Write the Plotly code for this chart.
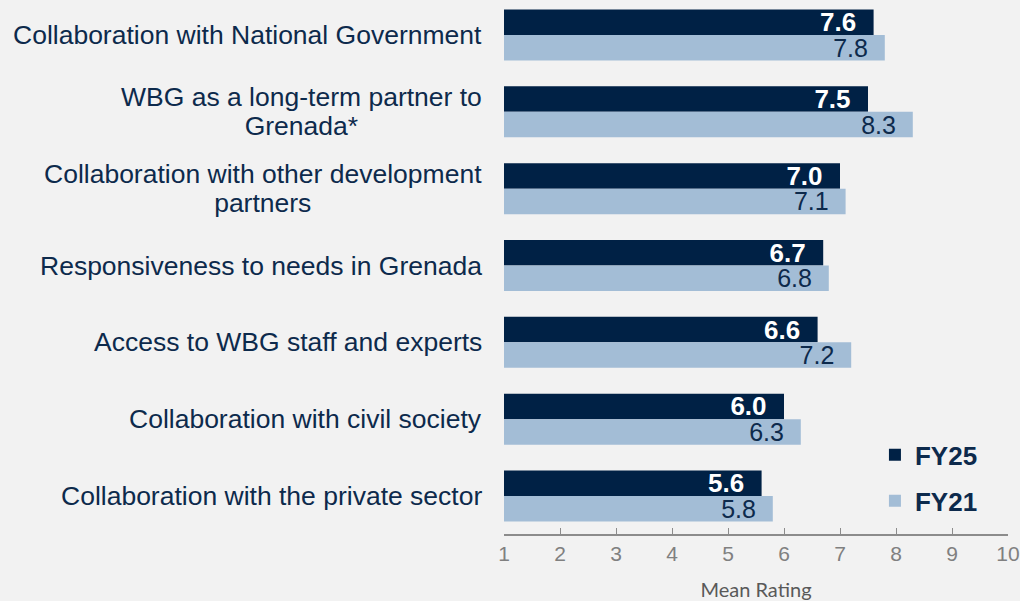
import plotly.graph_objects as go

categories = [
    "Collaboration with National Government",
    "WBG as a long-term partner to<br>Grenada*",
    "Collaboration with other development<br>partners",
    "Responsiveness to needs in Grenada",
    "Access to WBG staff and experts",
    "Collaboration with civil society",
    "Collaboration with the private sector",
]
fy25 = [7.6, 7.5, 7.0, 6.7, 6.6, 6.0, 5.6]
fy21 = [7.8, 8.3, 7.1, 6.8, 7.2, 6.3, 5.8]
x_ticks = [1, 2, 3, 4, 5, 6, 7, 8, 9, 10]

NAVY = "#002145"
LIGHT = "#a3bdd6"
BG = "#f2f2f2"
TXT = "#0d2a4c"
PAD = "\u00a0\u00a0"

fig = go.Figure()
fig.add_trace(go.Bar(
    y=categories, x=fy25, name="FY25", orientation="h",
    marker=dict(color=NAVY, line=dict(width=0)),
    text=[f"{v:.1f}{PAD}" for v in fy25], textposition="inside",
    insidetextanchor="end", constraintext="none",
    textfont=dict(family="Liberation Sans, Arial", size=26, color="white", weight="bold"),
    legendgroup="a",
))
fig.add_trace(go.Bar(
    y=categories, x=fy21, name="FY21", orientation="h",
    marker=dict(color=LIGHT, line=dict(width=0)),
    text=[f"{v:.1f}{PAD}" for v in fy21], textposition="inside",
    insidetextanchor="end", constraintext="none",
    textfont=dict(family="Liberation Sans, Arial", size=25, color=TXT),
    legendgroup="b",
))

# category labels, centre aligned; small base font keeps line spacing tight
for c in categories:
    txt = "<br>".join(f"<span style='font-size:26.5px'>{ln}</span>" for ln in c.split("<br>"))
    fig.add_annotation(
        x=-0.0397, xref="paper", y=c, yref="y", text=txt,
        xanchor="right", yanchor="middle", align="center", showarrow=False,
        font=dict(family="Liberation Sans, Arial", size=22.3, color=TXT),
    )

fig.update_layout(
    width=1020, height=601,
    margin=dict(l=504, r=12, t=0, b=67),
    paper_bgcolor=BG, plot_bgcolor=BG,
    barmode="group", bargap=0.336, bargroupgap=0,
    showlegend=True,
    legend=dict(
        x=0.736, y=0.192, xanchor="left", yanchor="top",
        bgcolor="rgba(0,0,0,0)", tracegroupgap=9, traceorder="grouped",
        font=dict(family="Liberation Sans, Arial", size=26, color=TXT, weight="bold"),
    ),
    xaxis=dict(
        range=[1, 10], tickvals=x_ticks, ticks="inside", ticklen=6,
        tickcolor="#8c8c8c", showline=True, linecolor="#8c8c8c", linewidth=1.5,
        showgrid=False, zeroline=False,
        tickfont=dict(family="Liberation Sans, Arial", size=21, color="#808080"),
        title=dict(text="Mean Rating", standoff=22,
                   font=dict(family="Lato, Open Sans", size=20, color="#595959")),
    ),
    yaxis=dict(
        categoryorder="array", categoryarray=categories,
        range=[6.495, -0.456], showticklabels=False, showgrid=False,
        zeroline=False, showline=False,
    ),
)

fig.write_html(
    "out.html",
    config={"displayModeBar": False},
    post_script="document.body.style.margin='0';document.body.style.background='#f2f2f2';",
)
